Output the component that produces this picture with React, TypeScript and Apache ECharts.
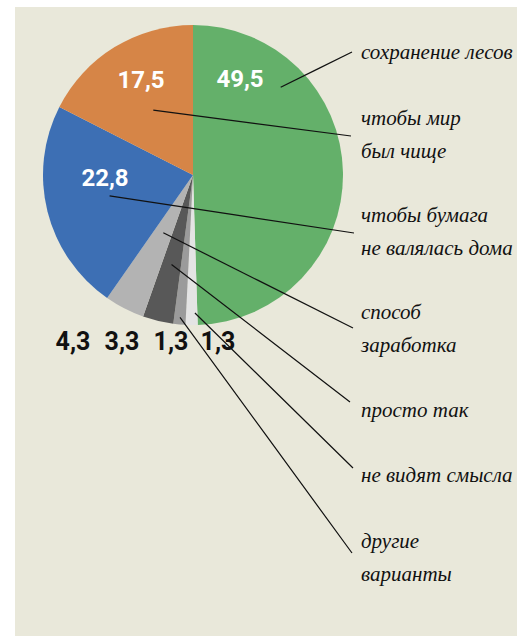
import React, { useEffect, useRef } from "react";
import * as echarts from "echarts";

// Clockwise from 12 o'clock
const categories = [
  "сохранение лесов",
  "не видят смысла",
  "другие\nварианты",
  "просто так",
  "способ\nзаработка",
  "чтобы бумага\nне валялась дома",
  "чтобы мир\nбыл чище",
];
const values = [49.5, 1.3, 1.3, 3.3, 4.3, 22.8, 17.5];

// styles / layout
const colors = ["#64b06a", "#e4e4e4", "#9b9b9b", "#585858", "#b3b3b3", "#3d6fb4", "#d68547"];
const CX = 193;
const CY = 175;
const R = 150;
const nameLabelY = [52, 475, 557, 410, 328, 231, 134];
const lineEnd = [
  [352, 52],
  [353, 468],
  [352, 553],
  [350, 402],
  [353, 328],
  [354, 233],
  [351, 136],
];
const lineStartR = [124, 138, 143, 92, 65, 86, 76];
const lineStartAngle: (number | null)[] = [45, 179.2, null, null, null, null, null];
const valuePos = [
  [240, 79],
  [218, 341],
  [171, 341],
  [122, 341],
  [73, 341],
  [105, 178],
  [141, 80],
];
const valueColor = ["#fff", "#111", "#111", "#111", "#111", "#fff", "#fff"];
const valueSize = [24, 25, 25, 25, 25, 24, 24];

function midAngles(): number[] {
  const total = values.reduce((a, b) => a + b, 0);
  let acc = 0;
  return values.map((v) => {
    const a = ((acc + v / 2) / total) * 360;
    acc += v;
    return a;
  });
}

export default function App() {
  const ref = useRef<HTMLDivElement>(null);
  useEffect(() => {
    if (!ref.current) return;
    const chart = echarts.init(ref.current, undefined, { renderer: "svg" });
    const mids = midAngles();
    const base = {
      type: "pie",
      center: [CX, CY],
      radius: R,
      startAngle: 90,
      clockwise: true,
      avoidLabelOverlap: false,
      silent: true,
    };
    chart.setOption({
      animation: false,
      backgroundColor: "#ffffff",
      graphic: [
        {
          type: "rect",
          z: -10,
          shape: { x: 15, y: 7, width: 502, height: 629 },
          style: { fill: "#e9e8da" },
          silent: true,
        },
      ],
      series: [
        {
          ...base,
          z: 2,
          data: values.map((v, i) => ({
            name: categories[i],
            value: v,
            itemStyle: { color: colors[i] },
          })),
          label: { show: false },
          labelLine: { show: false },
        },
        {
          ...base,
          z: 3,
          itemStyle: { color: "rgba(0,0,0,0)" },
          data: values.map((v, i) => ({ name: categories[i], value: v })),
          label: {
            show: true,
            position: "outside",
            formatter: "{b}",
            color: "#111",
            fontFamily: "'Liberation Serif', 'DejaVu Serif', serif",
            fontStyle: "italic",
            fontSize: 21,
            lineHeight: 33,
          },
          labelLine: {
            show: true,
            lineStyle: { color: "#111", width: 1.2 },
          },
          labelLayout: (params: any) => {
            const i = params.dataIndex;
            const ang = ((lineStartAngle[i] ?? mids[i]) * Math.PI) / 180;
            const sx = CX + lineStartR[i] * Math.sin(ang);
            const sy = CY - lineStartR[i] * Math.cos(ang);
            const [ex, ey] = lineEnd[i];
            return {
              x: 361,
              y: nameLabelY[i],
              align: "left",
              verticalAlign: "middle",
              labelLinePoints: [
                [sx, sy],
                [(sx + ex) / 2, (sy + ey) / 2],
                [ex, ey],
              ],
            };
          },
        },
        {
          ...base,
          z: 4,
          itemStyle: { color: "rgba(0,0,0,0)" },
          data: values.map((v, i) => ({
            name: categories[i],
            value: v,
            label: { color: valueColor[i], fontSize: valueSize[i] },
          })),
          label: {
            show: true,
            position: "inside",
            formatter: (p: any) => String(p.value).replace(".", ","),
            fontFamily: "Roboto, 'Liberation Sans', sans-serif",
            fontWeight: "bold",
          },
          labelLine: { show: false },
          labelLayout: (params: any) => {
            const i = params.dataIndex;
            return {
              x: valuePos[i][0],
              y: valuePos[i][1],
              align: "center",
              verticalAlign: "middle",
            };
          },
        },
      ],
    });
    return () => chart.dispose();
  }, []);
  return (
    <div
      ref={ref}
      style={{ position: "fixed", left: 0, top: 0, width: 517, height: 636 }}
    />
  );
}
